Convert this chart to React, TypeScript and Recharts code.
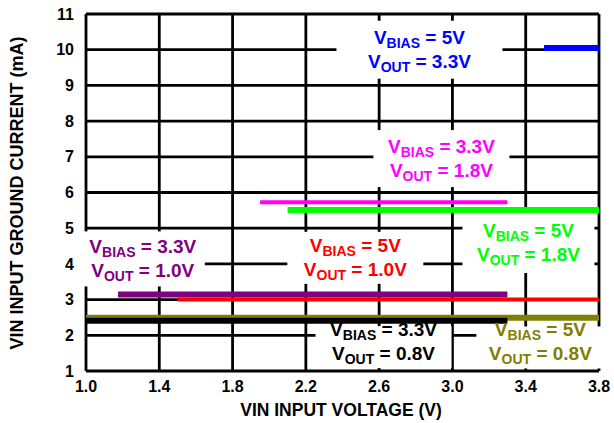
import React from 'react';
import { LineChart, Line, XAxis, YAxis, CartesianGrid, ReferenceDot, Label } from 'recharts';

// ---- data ----
const xTicks = [1.0, 1.4, 1.8, 2.2, 2.6, 3.0, 3.4, 3.8];
const yTicks = [1, 2, 3, 4, 5, 6, 7, 8, 9, 10, 11];

const bias5out33 = [{ x: 3.5, y: 10.05 }, { x: 3.8, y: 10.05 }];
const bias33out18 = [{ x: 1.95, y: 5.73 }, { x: 3.3, y: 5.73 }];
const bias5out18 = [{ x: 2.1, y: 5.51 }, { x: 3.8, y: 5.51 }];
const bias33out10 = [{ x: 1.175, y: 3.14 }, { x: 3.3, y: 3.14 }];
const bias5out10 = [{ x: 1.5, y: 3.0 }, { x: 3.8, y: 3.0 }];
const bias5out08 = [{ x: 1.0, y: 2.49 }, { x: 3.8, y: 2.49 }];
const bias33out08 = [{ x: 1.0, y: 2.41 }, { x: 3.3, y: 2.41 }];

// label texts and anchor points (data units)
const labelBias = ['5V', '3.3V', '5V', '5V', '3.3V', '3.3V', '5V'];
const labelOut = ['3.3V', '1.8V', '1.8V', '1.0V', '1.0V', '0.8V', '0.8V'];
const labelX = [2.82, 2.94, 3.415, 2.47, 1.31, 2.624, 3.48];
const labelY = [10.0, 6.95, 4.585, 4.17, 4.14, 1.81, 1.8];

// ---- styles ----
const labelColors = ['#0000FF', '#FF00FF', '#00FF00', '#FF0000', '#800080', '#000000', '#808000'];
const labelBoxes = [
  { w: 166, h: 58, dy: 0 },
  { w: 136, h: 57, dy: 0 },
  { w: 132, h: 60, dy: 0 },
  { w: 136, h: 52, dy: 0 },
  { w: 124, h: 55, dy: 0 },
  { w: 136, h: 42, dy: 5 },
  { w: 128, h: 42, dy: 5 },
];

const FONT = '"Liberation Sans", Arial, Helvetica, sans-serif';

function Annot(props: any) {
  const { cx, cy, idx } = props;
  const color = labelColors[idx];
  const box = labelBoxes[idx];
  const F = 19;
  const S = 14;
  const common = {
    textAnchor: 'middle' as const,
    fill: color,
    fontWeight: 'bold',
    fontSize: F,
    fontFamily: FONT,
    style: { whiteSpace: 'pre' as const },
  };
  return (
    <g>
      <rect x={cx - box.w / 2} y={cy - box.h / 2 + box.dy} width={box.w} height={box.h} fill="#ffffff" />
      <text x={cx} y={cy - 12 + 6} {...common}>
        <tspan>V</tspan>
        <tspan fontSize={S} dy={4}>BIAS</tspan>
        <tspan dy={-4}>{' = ' + labelBias[idx]}</tspan>
      </text>
      <text x={cx} y={cy + 12 + 6} {...common}>
        <tspan>V</tspan>
        <tspan fontSize={S} dy={4}>OUT</tspan>
        <tspan dy={-4}>{' = ' + labelOut[idx]}</tspan>
      </text>
    </g>
  );
}

const series = [
  { data: bias5out18, color: '#00FF00', w: 6 },
  { data: bias33out18, color: '#FF00FF', w: 4 },
  { data: bias5out33, color: '#0000FF', w: 6 },
  { data: bias5out10, color: '#FF0000', w: 4 },
  { data: bias33out10, color: '#800080', w: 6 },
  { data: bias5out08, color: '#808000', w: 6 },
  { data: bias33out08, color: '#000000', w: 6 },
];

export default function App() {
  return (
    <div style={{ position: 'absolute', left: 0, top: 0, width: 614, height: 423, background: '#fff' }}>
      <LineChart width={614} height={423} margin={{ top: 14, right: 15, bottom: 20, left: 26 }}>
        <CartesianGrid stroke="#000" strokeWidth={2.8} horizontal vertical />
        <XAxis
          type="number"
          dataKey="x"
          domain={[1.0, 3.8]}
          ticks={xTicks}
          tickFormatter={(v: number) => v.toFixed(1)}
          axisLine={false}
          tickLine={false}
          height={32}
          tickMargin={4}
          allowDataOverflow
          tick={{ fill: '#000', fontSize: 16, fontWeight: 'bold', fontFamily: FONT }}
        >
          <Label
            content={() => (
              <text x={341} y={416} textAnchor="middle" fill="#000" fontWeight="bold" fontSize={17.5} fontFamily={FONT}>
                VIN INPUT VOLTAGE (V)
              </text>
            )}
          />
        </XAxis>
        <YAxis
          type="number"
          domain={[1, 11]}
          ticks={yTicks}
          axisLine={false}
          tickLine={false}
          width={60}
          tickMargin={6}
          allowDataOverflow
          tick={{ fill: '#000', fontSize: 16, fontWeight: 'bold', fontFamily: FONT }}
        >
          <Label
            content={() => (
              <text
                x={23}
                y={193}
                transform="rotate(-90, 23, 193)"
                textAnchor="middle"
                fill="#000"
                fontWeight="bold"
                fontSize={18}
                fontFamily={FONT}
              >
                VIN INPUT GROUND CURRENT (mA)
              </text>
            )}
          />
        </YAxis>
        {labelX.map((lx, i) => (
          <ReferenceDot
            key={'lab' + i}
            x={lx}
            y={labelY[i]}
            r={1}
            isFront={false}
            shape={(p: any) => <Annot {...p} idx={i} />}
          />
        ))}
        {series.map((s, i) => (
          <Line
            key={'s' + i}
            data={s.data}
            dataKey="y"
            stroke={s.color}
            strokeWidth={s.w}
            dot={false}
            activeDot={false}
            isAnimationActive={false}
            type="linear"
          />
        ))}
      </LineChart>
    </div>
  );
}
